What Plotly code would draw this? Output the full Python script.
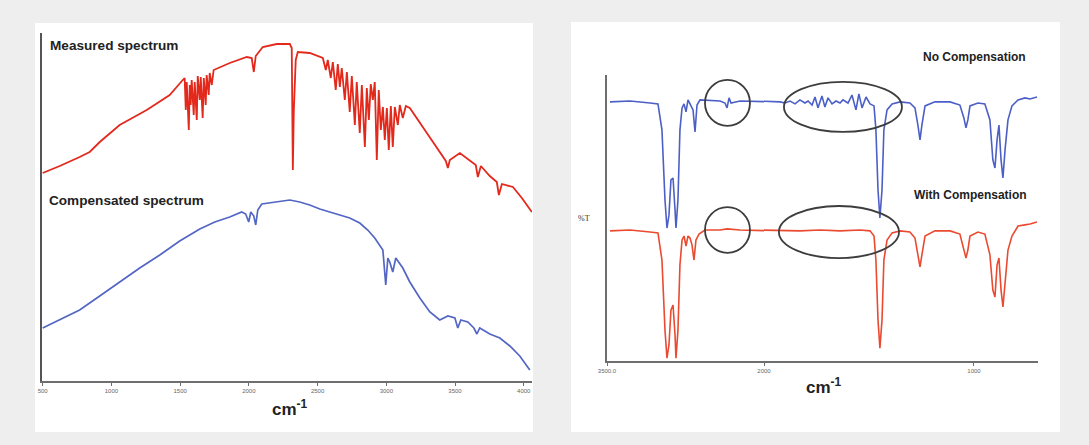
import plotly.graph_objects as go

# ---------------- data: left panel (single-beam spectra) ----------------
meas_wn = [500, 624, 769, 842, 915, 1060, 1257, 1424, 1519, 1533,
           1541, 1548, 1563, 1570, 1577, 1584, 1599, 1606, 1621, 1628,
           1643, 1650, 1664, 1672, 1686, 1693, 1708, 1715, 1730, 1744,
           1861, 1985, 2021, 2036, 2050, 2101, 2203, 2298, 2312, 2320,
           2327, 2341, 2356, 2443, 2538, 2560, 2574, 2596, 2611, 2632,
           2647, 2662, 2676, 2698, 2713, 2734, 2749, 2771, 2785, 2807,
           2822, 2844, 2858, 2873, 2887, 2902, 2916, 2931, 2945, 2960,
           2975, 2989, 3004, 3018, 3033, 3047, 3062, 3084, 3098, 3120,
           3142, 3171, 3295, 3389, 3433, 3448, 3462, 3535, 3608, 3651,
           3666, 3688, 3753, 3804, 3819, 3841, 3921, 3986, 4059]
meas_val = [2.08, 2.15, 2.24, 2.29, 2.39, 2.56, 2.71, 2.86, 3.01, 3.03,
            2.71, 2.99, 2.51, 2.96, 2.76, 3.01, 2.66, 2.99, 2.61, 3.05,
            2.81, 3.04, 2.63, 3.03, 2.76, 3.06, 2.86, 3.08, 2.96, 3.11,
            3.18, 3.24, 3.23, 3.09, 3.25, 3.34, 3.37, 3.37, 3.33, 2.11,
            2.70, 3.21, 3.29, 3.28, 3.23, 3.11, 3.21, 3.03, 3.19, 2.91,
            3.17, 2.94, 3.13, 2.81, 3.09, 2.69, 3.05, 2.56, 2.99, 2.48,
            2.96, 2.34, 2.93, 2.61, 2.97, 2.81, 2.99, 2.21, 2.91, 2.51,
            2.74, 2.41, 2.73, 2.31, 2.75, 2.34, 2.74, 2.56, 2.76, 2.63,
            2.75, 2.73, 2.48, 2.29, 2.20, 2.13, 2.21, 2.28, 2.21, 2.16,
            2.04, 2.15, 2.05, 1.99, 1.86, 1.97, 1.94, 1.83, 1.69]

comp_wn = [500, 624, 769, 915, 1060, 1206, 1352, 1497, 1643, 1752,
           1861, 1948, 1977, 1999, 2014, 2036, 2050, 2065, 2094, 2189,
           2298, 2370, 2443, 2516, 2589, 2662, 2734, 2807, 2865, 2916,
           2953, 2975, 2996, 3011, 3025, 3047, 3069, 3091, 3120, 3171,
           3244, 3317, 3389, 3448, 3499, 3520, 3542, 3593, 3637, 3659,
           3680, 3753, 3826, 3899, 3971, 4044]
comp_val = [0.53, 0.61, 0.71, 0.85, 0.99, 1.13, 1.26, 1.40, 1.52, 1.59,
            1.64, 1.69, 1.67, 1.59, 1.69, 1.65, 1.56, 1.71, 1.77, 1.79,
            1.81, 1.79, 1.76, 1.72, 1.69, 1.66, 1.63, 1.58, 1.51, 1.43,
            1.36, 1.31, 0.96, 1.23, 1.19, 1.09, 1.23, 1.19, 1.13, 0.99,
            0.83, 0.69, 0.61, 0.65, 0.63, 0.53, 0.61, 0.59, 0.53, 0.47,
            0.53, 0.47, 0.43, 0.35, 0.25, 0.11]

left_ticks = [500, 1000, 1500, 2000, 2500, 3000, 3500, 4000]

# ---------------- data: right panel (%T spectra) ----------------
nocomp_wn = [3471, 3280, 3089, 3013, 2975, 2946, 2927, 2908, 2889, 2869,
             2850, 2841, 2822, 2803, 2783, 2764, 2745, 2726, 2707, 2678,
             2659, 2640, 2611, 2420, 2373, 2353, 2334, 2315, 2229, 2038,
             1924, 1900, 1876, 1852, 1829, 1805, 1790, 1771, 1757, 1743,
             1724, 1710, 1695, 1676, 1657, 1638, 1624, 1600, 1581, 1562,
             1548, 1533, 1514, 1495, 1476, 1467, 1457, 1448, 1438, 1429,
             1414, 1390, 1352, 1305, 1281, 1267, 1257, 1248, 1233, 1186,
             1114, 1067, 1048, 1038, 1029, 1019, 981, 948, 924, 910,
             900, 890, 881, 871, 862, 852, 838, 819, 790, 757,
             733, 700]
nocomp_t = [90.6, 90.9, 90.2, 89.9, 80.8, 56.3, 46.5, 51.0, 63.3, 64.0,
            52.8, 46.5, 56.3, 80.8, 88.5, 89.9, 87.1, 91.3, 89.9, 87.8,
            80.1, 89.5, 91.3, 90.9, 90.2, 88.5, 92.0, 90.2, 90.9, 90.9,
            90.6, 90.2, 90.9, 89.9, 91.3, 90.2, 90.9, 89.5, 92.3, 88.5,
            92.7, 88.8, 92.0, 89.9, 90.9, 90.2, 91.3, 90.2, 93.0, 87.8,
            93.4, 88.5, 92.3, 89.9, 89.2, 80.8, 59.8, 50.0, 59.8, 80.8,
            87.8, 89.9, 90.6, 90.2, 88.5, 82.5, 77.3, 82.5, 89.2, 90.6,
            90.6, 89.5, 85.0, 81.5, 84.3, 89.2, 90.2, 89.9, 84.3, 70.3,
            67.5, 77.3, 82.5, 70.3, 64.0, 73.8, 84.3, 89.2, 91.3, 92.0,
            91.6, 92.3]

withcomp_wn = [3471, 3280, 3089, 3013, 2975, 2946, 2927, 2908, 2889, 2869,
               2850, 2841, 2822, 2803, 2783, 2764, 2745, 2726, 2707, 2688,
               2669, 2650, 2621, 2564, 2420, 2353, 2229, 2038, 1924, 1829,
               1733, 1638, 1543, 1495, 1476, 1467, 1457, 1448, 1438, 1429,
               1414, 1390, 1352, 1305, 1281, 1267, 1257, 1248, 1233, 1186,
               1114, 1067, 1048, 1038, 1029, 1019, 981, 948, 924, 910,
               900, 890, 881, 871, 862, 852, 838, 819, 790, 757,
               733, 700]
withcomp_t = [45.5, 45.8, 45.1, 44.8, 35.3, 10.8, 1.0, 5.6, 17.8, 19.6,
              9.1, 1.0, 10.8, 33.6, 42.3, 43.7, 40.2, 43.7, 43.0, 40.6,
              35.3, 42.3, 44.4, 45.8, 45.8, 46.2, 45.8, 45.8, 45.5, 45.5,
              45.8, 45.5, 45.8, 45.5, 43.7, 35.3, 14.3, 4.5, 14.3, 35.3,
              42.3, 44.8, 45.5, 45.1, 43.0, 37.1, 32.9, 37.1, 43.7, 45.5,
              45.5, 44.4, 39.5, 36.0, 38.8, 43.7, 45.1, 44.4, 37.1, 24.8,
              22.4, 33.6, 36.0, 24.8, 18.9, 28.3, 38.8, 43.7, 47.2, 47.6,
              47.9, 48.6]

right_break = 2000
right_ticks_hi = [3500]
right_ticks_hi_text = ["3500.0"]
right_ticks_lo = [2000, 1000]
right_ticks_lo_text = ["2000", "1000"]

# ---------------- helpers ----------------
W, H = 1089, 445


def px(x):
    return x / W


def py(y):
    return 1 - y / H


def split(wn, t, brk):
    hi_x, hi_y, lo_x, lo_y = [], [], [], []
    for i, (a, b) in enumerate(zip(wn, t)):
        if a >= brk:
            hi_x.append(a); hi_y.append(b)
            if i + 1 < len(wn) and wn[i + 1] < brk:
                lo_x.append(a); lo_y.append(b)
        else:
            lo_x.append(a); lo_y.append(b)
            if i > 0 and wn[i - 1] >= brk and (not hi_x or hi_x[-1] != a):
                hi_x.append(a); hi_y.append(b)
    return hi_x, hi_y, lo_x, lo_y


RED_L = "#e3291c"
BLUE_L = "#5366c4"
RED_R = "#ea4a30"
BLUE_R = "#4c5fc6"
AX = "#6e6e6e"

fig = go.Figure()

# left panel
fig.add_trace(go.Scatter(x=meas_wn, y=meas_val, mode="lines",
                         line=dict(color=RED_L, width=1.8), xaxis="x", yaxis="y",
                         showlegend=False))
fig.add_trace(go.Scatter(x=comp_wn, y=comp_val, mode="lines",
                         line=dict(color=BLUE_L, width=1.7), xaxis="x", yaxis="y",
                         showlegend=False))

# right panel (two x segments, expanded below 2000 cm-1)
for wn, t, col in [(nocomp_wn, nocomp_t, BLUE_R), (withcomp_wn, withcomp_t, RED_R)]:
    hx, hy, lx, ly = split(wn, t, right_break)
    fig.add_trace(go.Scatter(x=hx, y=hy, mode="lines", line=dict(color=col, width=1.6),
                             xaxis="x2", yaxis="y2", showlegend=False))
    fig.add_trace(go.Scatter(x=lx, y=ly, mode="lines", line=dict(color=col, width=1.6),
                             xaxis="x3", yaxis="y2", showlegend=False))

tickfont = dict(family="Liberation Sans", size=6, color="#666")
common = dict(showgrid=False, zeroline=False, automargin=False)

fig.update_layout(
    width=W, height=H, autosize=False,
    margin=dict(l=0, r=0, t=0, b=0, pad=0, autoexpand=False),
    paper_bgcolor="#eeeeee",
    plot_bgcolor="rgba(0,0,0,0)",
    xaxis=dict(domain=[px(42), px(532)], range=[495, 4060], anchor="y",
               showline=True, linecolor=AX, linewidth=2,
               ticks="outside", ticklen=3, tickcolor=AX, tickvals=left_ticks,
               tickfont=tickfont, **common),
    yaxis=dict(domain=[py(381), py(33)], range=[0, 3.48], anchor="x",
               showline=True, linecolor="#555", linewidth=2,
               showticklabels=False, ticks="", **common),
    xaxis2=dict(domain=[px(607), px(764)], range=[3500, 2000], anchor="y2",
                showline=True, linecolor=AX, linewidth=1.5,
                ticks="outside", ticklen=3, tickcolor=AX,
                tickvals=right_ticks_hi, ticktext=right_ticks_hi_text, tickfont=tickfont,
                **common),
    xaxis3=dict(domain=[px(764), px(1038)], range=[2000, 695], anchor="y2",
                showline=True, linecolor=AX, linewidth=1.5,
                ticks="outside", ticklen=3, tickcolor=AX,
                tickvals=right_ticks_lo, ticktext=right_ticks_lo_text, tickfont=tickfont,
                **common),
    yaxis2=dict(domain=[py(361), py(75)], range=[0, 100], anchor="x2",
                showline=True, linecolor=AX, linewidth=1.5,
                showticklabels=False, ticks="", **common),
)

shapes = [
    dict(type="rect", xref="paper", yref="paper", x0=px(35), x1=px(533), y0=py(432), y1=py(23),
         fillcolor="white", line=dict(width=0), layer="below"),
    dict(type="rect", xref="paper", yref="paper", x0=px(571), x1=px(1060), y0=py(432), y1=py(22),
         fillcolor="white", line=dict(width=0), layer="below"),
]
ring = dict(color="#3d3d3d", width=1.8)
# circled regions (CO2 and water vapour bands)
shapes += [
    dict(type="circle", xref="x2", yref="y2", x0=2564, x1=2134, y0=82.2, y1=98.3, line=ring),
    dict(type="circle", xref="x3", yref="y2", x0=1905, x1=1343, y0=80.1, y1=97.6, line=ring),
    dict(type="circle", xref="x2", yref="y2", x0=2564, x1=2134, y0=37.8, y1=53.8, line=ring),
    dict(type="circle", xref="x3", yref="y2", x0=1929, x1=1357, y0=36.0, y1=54.2, line=ring),
]
fig.update_layout(shapes=shapes)

bold = dict(family="Liberation Sans", size=13.6, color="#222")
small_bold = dict(family="Liberation Sans", size=12, color="#222")
ann = [
    dict(text="<b>Measured spectrum</b>", x=px(48), y=py(45), xanchor="left", yanchor="middle",
         font=bold),
    dict(text="<b>Compensated spectrum</b>", x=px(47), y=py(200), xanchor="left", yanchor="middle",
         font=bold),
    dict(text="<b>cm<sup>-1</sup></b>", x=px(290), y=py(408), xanchor="center", yanchor="middle",
         font=dict(family="Liberation Sans", size=17, color="#222")),
    dict(text="<b>No Compensation</b>", x=px(974), y=py(57), xanchor="center", yanchor="middle",
         font=small_bold),
    dict(text="<b>With Compensation</b>", x=px(970), y=py(195), xanchor="center", yanchor="middle",
         font=small_bold),
    dict(text="%T", x=px(584), y=py(218), xanchor="center", yanchor="middle",
         font=dict(family="Liberation Serif", size=8, color="#333")),
    dict(text="<b>cm<sup>-1</sup></b>", x=px(824), y=py(386), xanchor="center", yanchor="middle",
         font=dict(family="Liberation Sans", size=17, color="#222")),
]
for a in ann:
    a.update(xref="paper", yref="paper", showarrow=False)
fig.update_layout(annotations=ann)

fig.write_html("out.html",
               config={"displayModeBar": False},
               post_script="document.body.style.margin='0px';"
                           "document.body.style.overflow='hidden';")
